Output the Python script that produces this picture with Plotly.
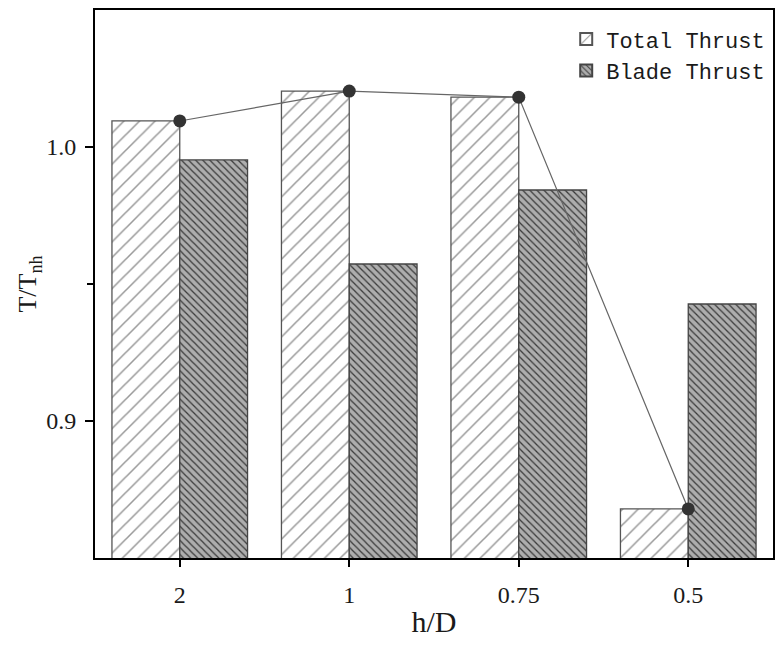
import plotly.graph_objects as go

categories = ["2", "1", "0.75", "0.5"]
total_thrust = [1.0095, 1.0204, 1.0182, 0.8679]
blade_thrust = [0.9953, 0.9573, 0.9843, 0.9427]
y_tick_vals = [0.9, 1.0]
y_tick_text = ["0.9", "1.0"]

MONO = "Liberation Mono"
SERIF = "Liberation Serif"

fig = go.Figure()
fig.add_trace(go.Bar(
    x=categories, y=total_thrust, name="Total Thrust",
    marker=dict(color="white", line=dict(color="#555555", width=1.3),
                pattern=dict(shape="/", size=11, solidity=0.14,
                             fgcolor="#333333", bgcolor="white", fillmode="overlay")),
))
fig.add_trace(go.Bar(
    x=categories, y=blade_thrust, name="Blade Thrust",
    marker=dict(color="#adadad", line=dict(color="#444444", width=1.3),
                pattern=dict(shape="\\", size=5, solidity=0.25,
                             fgcolor="#3a3a3a", bgcolor="#adadad", fillmode="replace")),
))
fig.add_trace(go.Scatter(
    x=categories, y=total_thrust, mode="lines+markers", showlegend=False,
    line=dict(color="#666666", width=1.2),
    marker=dict(color="#333333", size=13),
))

fig.update_layout(
    width=784, height=645,
    margin=dict(l=95, r=11, t=10, b=87),
    plot_bgcolor="white", paper_bgcolor="white",
    barmode="group", bargap=0.2, bargroupgap=0,
    font=dict(family=MONO, size=17, color="#1a1a1a"),
    legend=dict(x=0.695, y=0.985, xanchor="left", yanchor="top",
                bgcolor="rgba(0,0,0,0)", font=dict(family=MONO, size=22),
                itemsizing="constant", tracegroupgap=0),
)
fig.update_xaxes(
    type="category", range=[-0.5, 3.5], automargin=False,
    showline=True, linecolor="black", linewidth=2, mirror=True,
    ticks="outside", ticklen=7, tickcolor="black", tickwidth=2,
    minor=dict(ticks="outside", ticklen=6, tickcolor="black", tickwidth=1.5),
    showgrid=False,
    title=dict(text="h/D", font=dict(family=SERIF, size=30, color="#1a1a1a"), standoff=4),
    tickfont=dict(family=SERIF, size=24, color="#1a1a1a"),
    ticklabelstandoff=7,
)
fig.update_yaxes(
    range=[0.85, 1.05], automargin=False,
    tickvals=y_tick_vals, ticktext=y_tick_text,
    showline=True, linecolor="black", linewidth=2, mirror=True,
    ticks="outside", ticklen=8, tickcolor="black", tickwidth=1.5,
    minor=dict(tickvals=[0.95], ticks="outside", ticklen=6, tickcolor="black", tickwidth=1.5),
    showgrid=False, zeroline=False,
    title=dict(text="T/T<sub>nh</sub>", font=dict(family=SERIF, size=26, color="#1a1a1a"), standoff=2),
    tickfont=dict(family=SERIF, size=24, color="#1a1a1a"),
    ticklabelstandoff=4,
)

fig.write_html("out.html")
